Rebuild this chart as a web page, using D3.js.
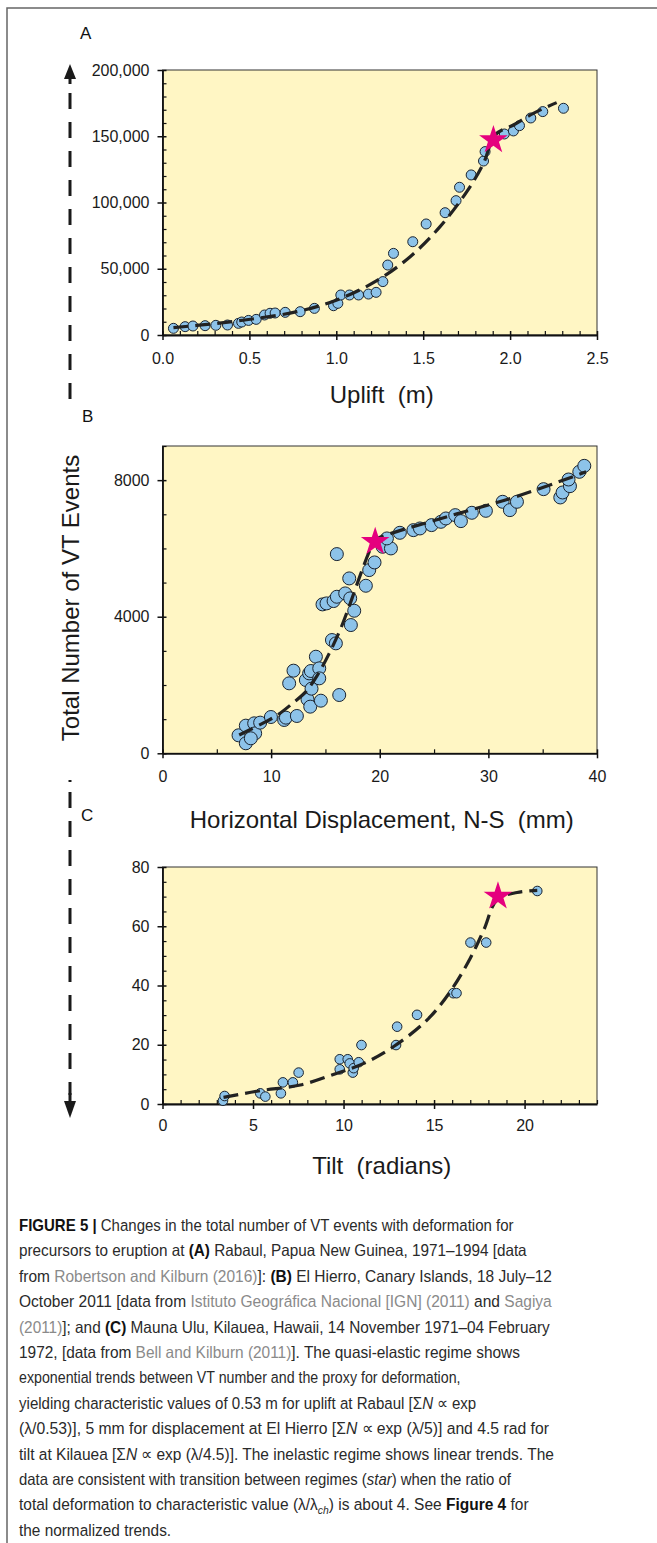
<!DOCTYPE html>
<html><head><meta charset="utf-8">
<script src="https://cdn.jsdelivr.net/npm/d3@7"></script>
<style>body{margin:0;background:#fff}svg{display:block}</style>
</head><body><svg id="c" width="657" height="1543"></svg>
<script>
// ---------------- DATA ----------------
// Panel A: Rabaul — uplift (m) vs total VT events
const upliftA = [0.063,0.13,0.175,0.245,0.307,0.374,0.437,0.456,0.495,0.539,0.587,0.619,0.648,0.706,0.792,0.874,0.984,1.009,1.026,1.076,1.128,1.185,1.229,1.268,1.296,1.329,1.44,1.517,1.626,1.689,1.709,1.776,1.847,1.856,1.967,2.019,2.054,2.119,2.188,2.307];
const eventsA = [5030,6290,6790,7040,7300,7550,8800,9800,11000,11800,15100,16400,16600,17100,17600,20100,22100,23900,30200,30200,30200,30900,32200,40300,52800,61600,70400,83800,92300,101400,111500,120800,131300,138400,151700,154000,158000,163800,168600,171100];
const starA = [1.904, 147200];
const trendAx = [0.063,0.313,0.543,0.773,1.003,1.233,1.425,1.597,1.751,1.847,1.914,2.019,2.134,2.268];
const trendAy = [5540,8800,12600,17600,26400,41000,59100,81800,108200,129600,151000,158500,167300,175400];
const xTicksA = [0,0.5,1,1.5,2,2.5];
const yTicksA = [0,50000,100000,150000,200000];

// Panel B: El Hierro — horizontal displacement N-S (mm) vs total VT events
const dispB = [7.0,7.67,7.67,8.44,8.53,8.13,8.99,9.98,11.2,11.36,12.37,11.66,12.06,13.2,13.35,13.6,13.72,14.58,13.5,13.66,14.12,14.43,14.43,16.27,15.6,15.96,14.73,15.1,15.75,16.05,16.82,17.28,17.65,17.34,17.19,18.72,16.05,19.03,19.52,20.26,21.03,20.66,21.85,23.1,23.7,24.77,25.63,26.09,26.95,27.47,28.48,29.77,31.31,31.98,32.63,35.08,36.62,36.83,37.51,37.38,38.37,38.83];
const eventsB = [527,293,810,878,585,439,898,1063,976,1044,1093,2049,2420,2146,1580,1366,1893,1541,2341,2410,2829,2488,2195,1707,3317,3220,4361,4390,4459,4585,4683,4537,4175,3756,5122,4907,5834,5366,5590,6049,6000,6293,6458,6536,6585,6683,6780,6878,6975,6800,7044,7102,7366,7122,7366,7736,7493,7639,7824,8019,8244,8419];
const starB = [19.58, 6195];
const trendBx = [7.06,9.21,10.59,11.97,13.2,14.27,15.35,16.4,17.35,18.3,19.1,19.6,20.5,26.4,32.5,39.0];
const trendBy = [537,878,1122,1463,1805,2293,2927,3650,4450,5300,5950,6250,6380,6946,7512,8244];
const xTicksB = [0,10,20,30,40];
const yTicksB = [0,4000,8000];

// Panel C: Mauna Ulu — tilt (radians) vs total VT events
const tiltC = [3.34,3.43,5.4,5.68,6.54,6.65,7.2,7.52,9.79,9.79,10.23,10.34,10.51,10.56,10.84,10.99,12.9,12.96,14.06,16.06,16.24,17.01,17.88,20.7];
const eventsC = [1.1,2.7,3.6,2.5,3.6,7.3,7.3,10.6,15.1,11.7,15.1,13.7,10.6,12.1,14.1,19.9,19.9,26.1,30.1,37.4,37.4,54.5,54.5,71.9];
const starC = [18.53, 70.1];
const trendCx = [3.37,5.4,7.61,9.64,11.12,12.77,14.62,15.9,17.0,17.75,18.49,19.59,20.7];
const trendCy = [2.25,4.5,6.4,10.4,13.7,19.4,28.4,38,49.2,58.8,69,71.4,72.1];
const xTicksC = [0,5,10,15,20];
const yTicksC = [0,20,40,60,80];

const panelLetters = ["A","B","C"];
const xTitles = ["Uplift  (m)", "Horizontal Displacement, N-S  (mm)", "Tilt  (radians)"];
const yTitle = "Total Number of VT Events";

const captionLines = [
  "**FIGURE 5 |** Changes in the total number of VT events with deformation for",
  "precursors to eruption at **(A)** Rabaul, Papua New Guinea, 1971–1994 [data",
  "from {Robertson and Kilburn (2016)}]: **(B)** El Hierro, Canary Islands, 18 July–12",
  "October 2011 [data from {Istituto Geográfica Nacional [IGN] (2011)} and {Sagiya}",
  "{(2011)}]; and **(C)** Mauna Ulu, Kilauea, Hawaii, 14 November 1971–04 February",
  "1972, [data from {Bell and Kilburn (2011)}]. The quasi-elastic regime shows",
  "exponential trends between VT number and the proxy for deformation,",
  "yielding characteristic values of 0.53 m for uplift at Rabaul [Σ_N_ ∝ exp",
  "(λ/0.53)], 5 mm for displacement at El Hierro [Σ_N_ ∝ exp (λ/5)] and 4.5 rad for",
  "tilt at Kilauea [Σ_N_ ∝ exp (λ/4.5)]. The inelastic regime shows linear trends. The",
  "data are consistent with transition between regimes (_star_) when the ratio of",
  "total deformation to characteristic value (λ/λ~ch~) is about 4. See **Figure 4** for",
  "the normalized trends."
];

// ---------------- DRAWING ----------------
const svg = d3.select("#c");
const FONT = "'Liberation Sans', Arial, Helvetica, sans-serif";
const YELLOW = "#fff6c4", BLUE = "#8dc3e9", MAGENTA = "#e5007e";

// outer frame
svg.append("path").attr("d","M7,1543 V8 H657").attr("fill","none").attr("stroke","#666").attr("stroke-width",1.5);

const L = 162.5, R = 597;
const panels = [
  {top:70, bottom:335, xd:[0,2.5], yd:[0,200000], xs:upliftA, ys:eventsA, star:starA, tx:trendAx, ty:trendAy,
   xt:xTicksA, yt:yTicksA, xminor:0.1, yminor:10000, xfmt:d3.format(".1f"), yfmt:d3.format(","), r:5, xpad:13, title:403, letter:[80,39]},
  {top:446, bottom:753.3, xd:[0,40], yd:[0,9000], xs:dispB, ys:eventsB, star:starB, tx:trendBx, ty:trendBy,
   xt:xTicksB, yt:yTicksB, xminor:5, yminor:1000, xfmt:d3.format("d"), yfmt:d3.format("d"), r:6.5, xpad:12, title:828, letter:[82,422]},
  {top:867, bottom:1104, xd:[0,24], yd:[0,80], xs:tiltC, ys:eventsC, star:starC, tx:trendCx, ty:trendCy,
   xt:xTicksC, yt:yTicksC, xminor:1, yminor:5, xfmt:d3.format("d"), yfmt:d3.format("d"), r:4.8, xpad:11, title:1174, letter:[81,821]}
];

panels.forEach((p,i)=>{
  const x = d3.scaleLinear().domain(p.xd).range([L,R]);
  const y = d3.scaleLinear().domain(p.yd).range([p.bottom,p.top]);
  const g = svg.append("g");
  g.append("rect").attr("x",L).attr("y",p.top).attr("width",R-L).attr("height",p.bottom-p.top)
    .attr("fill",YELLOW).attr("stroke","#333").attr("stroke-width",1);

  const minorX = d3.range(p.xd[0], p.xd[1]+1e-9, p.xminor).filter(v=>!p.xt.some(t=>Math.abs(t-v)<1e-6));
  const minorY = d3.range(p.yd[0], p.yd[1]+1e-9, p.yminor).filter(v=>!p.yt.some(t=>Math.abs(t-v)<1e-6));

  // minor ticks (inward)
  const gxm = g.append("g").attr("transform",`translate(0,${p.bottom})`)
    .call(d3.axisBottom(x).tickValues(minorX).tickSize(-4).tickFormat(""));
  gxm.select(".domain").remove();
  const gym = g.append("g").attr("transform",`translate(${L},0)`)
    .call(d3.axisLeft(y).tickValues(minorY).tickSize(-4).tickFormat(""));
  gym.select(".domain").remove();
  [gxm,gym].forEach(a=>a.selectAll("line").attr("stroke","#111").attr("stroke-width",1.2));

  // major axes
  const gx = g.append("g").attr("transform",`translate(0,${p.bottom})`)
    .call(d3.axisBottom(x).tickValues(p.xt).tickFormat(p.xfmt).tickSize(5).tickSizeOuter(0).tickPadding(p.xpad));
  gx.selectAll(".tick line").attr("y1",-4);
  const gy = g.append("g").attr("transform",`translate(${L},0)`)
    .call(d3.axisLeft(y).tickValues(p.yt).tickFormat(p.yfmt).tickSize(5).tickSizeOuter(0).tickPadding(8));
  gy.selectAll(".tick line").attr("x1",4);
  [gx,gy].forEach(a=>{
    a.select(".domain").attr("stroke","#111").attr("stroke-width",1.8);
    a.selectAll(".tick line").attr("stroke","#111").attr("stroke-width",1.5);
    a.selectAll("text").attr("font-family",FONT).attr("font-size",16).attr("fill","#1a1a1a");
  });

  // dots
  g.append("g").selectAll("circle").data(p.xs.map((v,k)=>[v,p.ys[k]])).join("circle")
    .attr("cx",d=>x(d[0])).attr("cy",d=>y(d[1])).attr("r",p.r)
    .attr("fill",BLUE).attr("stroke","#1b2430").attr("stroke-width",1);

  // trend line
  const line = d3.line().x(d=>x(d[0])).y(d=>y(d[1])).curve(d3.curveCatmullRom.alpha(0.5));
  g.append("path").datum(p.tx.map((v,k)=>[v,p.ty[k]])).attr("d",line)
    .attr("fill","none").attr("stroke","#222").attr("stroke-width",3.2).attr("stroke-dasharray","15,7");

  // star
  g.append("path").attr("d",d3.symbol(d3.symbolStar, 255)())
    .attr("transform",`translate(${x(p.star[0])},${y(p.star[1])})`).attr("fill",MAGENTA);

  // titles
  svg.append("text").attr("x",(L+R)/2+2).attr("y",p.title).attr("text-anchor","middle")
    .style("white-space","pre")
    .attr("font-family",FONT).attr("font-size",24).attr("fill","#1a1a1a").text(xTitles[i]);
  svg.append("text").attr("x",p.letter[0]).attr("y",p.letter[1])
    .attr("font-family",FONT).attr("font-size",17).attr("fill","#111").text(panelLetters[i]);
});

// y title
svg.append("text").attr("transform","translate(79,598) rotate(-90)").attr("text-anchor","middle")
  .attr("font-family",FONT).attr("font-size",24).attr("fill","#1a1a1a").text(yTitle);

// dashed arrows
const AX = 70;
svg.append("path").attr("d",`M${AX},64 L${AX+6},79 L${AX-6},79 Z`).attr("fill","#1a1a1a");
svg.append("line").attr("x1",AX).attr("x2",AX).attr("y1",78).attr("y2",84).attr("stroke","#1a1a1a").attr("stroke-width",3);
svg.append("line").attr("x1",AX).attr("x2",AX).attr("y1",93).attr("y2",411)
  .attr("stroke","#1a1a1a").attr("stroke-width",3).attr("stroke-dasharray","16,13");
svg.append("line").attr("x1",AX).attr("x2",AX).attr("y1",780).attr("y2",782).attr("stroke","#1a1a1a").attr("stroke-width",3);
svg.append("line").attr("x1",AX).attr("x2",AX).attr("y1",792).attr("y2",1095)
  .attr("stroke","#1a1a1a").attr("stroke-width",3).attr("stroke-dasharray","16,13");
svg.append("line").attr("x1",AX).attr("x2",AX).attr("y1",1093).attr("y2",1102).attr("stroke","#1a1a1a").attr("stroke-width",3);
svg.append("path").attr("d",`M${AX},1118 L${AX+6},1101 L${AX-6},1101 Z`).attr("fill","#1a1a1a");

// caption
const lineEnds = [514,527,552,552,550,520,461,477,550,555,511,529,null];
function parse(s){
  const re = /(\*\*[^*]+\*\*|\{[^}]+\}|_[^_]+_|~[^~]+~)/g;
  const out=[]; let last=0, m;
  while((m=re.exec(s))){
    if(m.index>last) out.push({t:s.slice(last,m.index),k:"n"});
    const tok=m[0];
    if(tok.startsWith("**")) out.push({t:tok.slice(2,-2),k:"b"});
    else if(tok.startsWith("{")) out.push({t:tok.slice(1,-1),k:"g"});
    else if(tok.startsWith("_")) out.push({t:tok.slice(1,-1),k:"i"});
    else out.push({t:tok.slice(1,-1),k:"s"});
    last=re.lastIndex;
  }
  if(last<s.length) out.push({t:s.slice(last),k:"n"});
  return out;
}
const cx0 = 19, cy0 = 1231, lh = 25.4;
const scales=[];
captionLines.forEach((s,i)=>{
  const t = svg.append("text").attr("x",0).attr("y",0)
    .attr("font-family",FONT).attr("font-size",16.5).attr("fill","#2a2a2a");
  parse(s).forEach(seg=>{
    const ts = t.append("tspan").text(seg.t);
    if(seg.k==="b") ts.attr("font-weight","bold").attr("fill","#111");
    if(seg.k==="g") ts.attr("fill","#8a8a8a");
    if(seg.k==="i") ts.attr("font-style","italic");
    if(seg.k==="s"){ ts.attr("font-style","italic").attr("font-size",11).attr("dy",4); }
  });
  t.selectAll("tspan").each(function(d,j,nodes){
    const prev = j>0 ? d3.select(nodes[j-1]) : null;
    if(prev && prev.attr("dy")==="4") d3.select(this).attr("dy",-4);
  });
  const w = t.node().getComputedTextLength();
  let sx = lineEnds[i] ? (lineEnds[i]-cx0)/w : null;
  scales.push(sx);
  t.attr("transform",`translate(${cx0},${cy0+i*lh})`);
  t.node().__sx = sx;
});
const med = d3.median(scales.filter(v=>v));
svg.selectAll("text").filter(function(){return this.__sx!==undefined;}).each(function(){
  const sx = this.__sx || med;
  const tr = d3.select(this).attr("transform");
  d3.select(this).attr("transform", tr + ` scale(${sx},1)`);
});
</script>
</body></html>
